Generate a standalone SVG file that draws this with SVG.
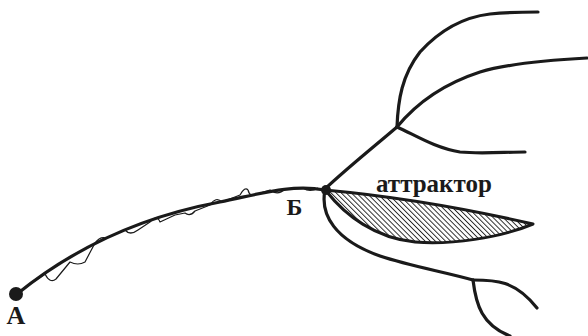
<svg xmlns="http://www.w3.org/2000/svg" width="588" height="336" viewBox="0 0 588 336">
<style>
.ln{fill:none;stroke:#1a1a1a;stroke-width:3.2;stroke-linecap:round;stroke-linejoin:round}
.thin{fill:none;stroke:#1a1a1a;stroke-width:1.2;stroke-linejoin:round}
.lbl{font-family:"Liberation Serif","Times New Roman",serif;font-weight:bold;fill:#1a1a1a}
</style>
<defs>
<pattern id="hatch" width="3.6" height="3.6" patternUnits="userSpaceOnUse" patternTransform="rotate(-45)">
<line x1="0.5" y1="0" x2="0.5" y2="3.6" stroke="#1a1a1a" stroke-width="0.9"/>
</pattern>
</defs>
<rect width="588" height="336" fill="#fff"/>
<g id="connectors">
<path class="ln" d="M17,294 C80,243 150,215 220,202 C260,194 290,184 325,190"/>
<path class="thin" d="M30,284 L45,274 Q50,284 56,279 L70,262 Q78,266 85,262 L95,243 Q100,236 106,238 L125,230 Q130,236 138,230 L150,222 Q157,214 160,222 L175,215 L185,213 Q190,217 195,211 L210,205 Q216,196 222,202 L240,195 Q245,186 248,190 Q250,198 257,194 L270,190 Q278,196 285,189 L303,188 Q310,193 318,188"/>
<path class="ln" d="M325,189 C345,170 370,150 397,127"/>
<path class="ln" d="M397,127 C398,100 402,75 420,52 C440,30 465,17 490,14 C510,12 525,12 538,12"/>
<path class="ln" d="M397,127 C415,105 440,85 480,72 C510,63 550,60 587,58"/>
<path class="ln" d="M397,127 C415,135 435,148 460,152 C480,154 505,152 525,152"/>
<path class="ln" d="M325,190 C320,215 335,240 380,256 C410,266 445,272 473,280"/>
<path class="ln" d="M473,280 C495,280 515,280 537,308"/>
<path class="ln" d="M473,280 C476,305 482,325 510,336"/>
</g>
<g id="attractor">
<path d="M325,190 C380,195 450,205 533,224 C500,238 450,245 415,242 C375,238 345,215 327,192 Z" fill="url(#hatch)" stroke="#1a1a1a" stroke-width="3" stroke-linejoin="round"/>
<text class="lbl" x="376" y="192" font-size="25">аттрактор</text>
</g>
<g id="nodeA">
<circle cx="16" cy="294" r="7" fill="#1a1a1a"/>
<text class="lbl" x="16" y="324" font-size="26" text-anchor="middle">А</text>
</g>
<g id="nodeB">
<circle cx="326" cy="190" r="5" fill="#1a1a1a"/>
<text class="lbl" x="294.5" y="215" font-size="24" text-anchor="middle">Б</text>
</g>
</svg>
